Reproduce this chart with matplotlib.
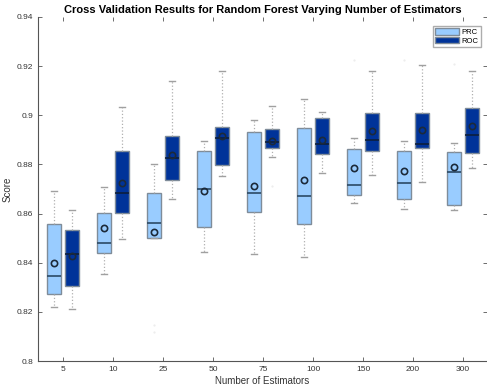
import matplotlib
matplotlib.use('Agg')
import matplotlib.pyplot as plt
from matplotlib.patches import Patch
import numpy as np

plt.rcParams['font.family'] = ['Liberation Sans', 'DejaVu Sans']

estimators = ['5', '10', '25', '50', '75', '100', '150', '200', '300']

# PRC scores (box stats)
prc_lo = [0.8221, 0.8354, 0.8499, 0.8445, 0.8437, 0.8422, 0.8642, 0.8620, 0.8613]
prc_q1 = [0.8271, 0.8441, 0.8499, 0.8545, 0.8608, 0.8556, 0.8677, 0.8658, 0.8634]
prc_med = [0.8346, 0.8480, 0.8562, 0.8700, 0.8684, 0.8673, 0.8716, 0.8724, 0.8770]
prc_q3 = [0.8558, 0.8601, 0.8683, 0.8853, 0.8933, 0.8947, 0.8864, 0.8853, 0.8849]
prc_hi = [0.8692, 0.8707, 0.8801, 0.8894, 0.8981, 0.9065, 0.8906, 0.8897, 0.8886]
prc_mean = [0.8398, 0.8541, 0.8525, 0.8692, 0.8712, 0.8737, 0.8787, 0.8775, 0.8788]
prc_out = [[], [], [0.8146, 0.8117], [], [], [], [0.9225], [0.9225], [0.9210]]

# ROC scores
roc_lo = [0.8210, 0.8495, 0.8658, 0.8752, 0.8830, 0.8764, 0.8756, 0.8727, 0.8784]
roc_q1 = [0.8305, 0.8601, 0.8737, 0.8798, 0.8866, 0.8841, 0.8856, 0.8866, 0.8845]
roc_med = [0.8437, 0.8685, 0.8825, 0.8906, 0.8890, 0.8883, 0.8898, 0.8884, 0.8920]
roc_q3 = [0.8533, 0.8856, 0.8917, 0.8954, 0.8944, 0.8988, 0.9008, 0.9008, 0.9031]
roc_hi = [0.8615, 0.9035, 0.9138, 0.9180, 0.9039, 0.9015, 0.9182, 0.9203, 0.9180]
roc_mean = [0.8427, 0.8723, 0.8838, 0.8914, 0.8897, 0.8898, 0.8937, 0.8940, 0.8955]
roc_out = [[], [], [], [], [0.8712], [], [], [], []]

prc_color = '#99ccff'
roc_color = '#003399'


def make_stats(lo, q1, med, q3, hi, mean, out):
    stats = []
    for i in range(len(lo)):
        stats.append(dict(whislo=lo[i], q1=q1[i], med=med[i], q3=q3[i],
                          whishi=hi[i], mean=mean[i], fliers=np.array(out[i])))
    return stats


def draw_boxes(ax, stats, positions, color, medcolor):
    ax.bxp(stats, positions=positions, widths=0.28, patch_artist=True,
           showmeans=True, showfliers=True, manage_ticks=False,
           boxprops=dict(facecolor=color, edgecolor='#7f8c99', linewidth=1.0),
           medianprops=dict(color=medcolor, linewidth=1.2),
           whiskerprops=dict(color='#b0b0b0', linestyle=':', linewidth=0.9),
           capprops=dict(color='#a0a0a0', linewidth=1.0),
           capwidths=0.12,
           meanprops=dict(marker='o', markerfacecolor='none',
                          markeredgecolor='#1c2a3a', markersize=4.5,
                          markeredgewidth=1.2),
           flierprops=dict(marker='.', markersize=1.2, markerfacecolor='#ececec',
                           markeredgecolor='#ececec'))


fig = plt.figure(figsize=(4.87, 3.91), dpi=100)
ax = fig.add_axes([0.078, 0.0767, 0.922, 0.88])

x = np.arange(1, len(estimators) + 1)
draw_boxes(ax, make_stats(prc_lo, prc_q1, prc_med, prc_q3, prc_hi, prc_mean, prc_out),
           x - 0.17, prc_color, '#2b4a66')
draw_boxes(ax, make_stats(roc_lo, roc_q1, roc_med, roc_q3, roc_hi, roc_mean, roc_out),
           x + 0.18, roc_color, '#0d1f3d')

ax.set_xlim(0.5, 9.48)
ax.set_ylim(0.8, 0.94)
ax.set_xticks(x)
ax.set_xticklabels(estimators)
ax.set_yticks([0.8, 0.82, 0.84, 0.86, 0.88, 0.9, 0.92, 0.94])
ax.set_yticklabels(['0.8', '0.82', '0.84', '0.86', '0.88', '0.9', '0.92', '0.94'])

for side in ['top', 'right']:
    ax.spines[side].set_visible(False)
for side in ['left', 'bottom']:
    ax.spines[side].set_color('#555555')
    ax.spines[side].set_linewidth(0.8)
ax.tick_params(direction='in', length=3, width=0.6, colors='#555555',
               labelsize=6, labelcolor='#333333', top=True, right=True)

ax.set_title('Cross Validation Results for Random Forest Varying Number of Estimators',
             fontsize=8, fontweight='bold', pad=3)
ax.set_xlabel('Number of Estimators', fontsize=7, color='#333333', labelpad=2)
ax.set_ylabel('Score', fontsize=7, color='#333333', labelpad=3)

handles = [Patch(facecolor=prc_color, edgecolor='#7f8c99', label='PRC'),
           Patch(facecolor=roc_color, edgecolor='#7f8c99', label='ROC')]
ax.legend(handles=handles, loc='upper right', fontsize=5.5, frameon=True,
          fancybox=False, edgecolor='#999999', handlelength=3.2, handleheight=0.9,
          handletextpad=0.3, borderpad=0.3, labelspacing=0.15,
          bbox_to_anchor=(0.995, 0.985))

fig.savefig('out.png', dpi=100)
